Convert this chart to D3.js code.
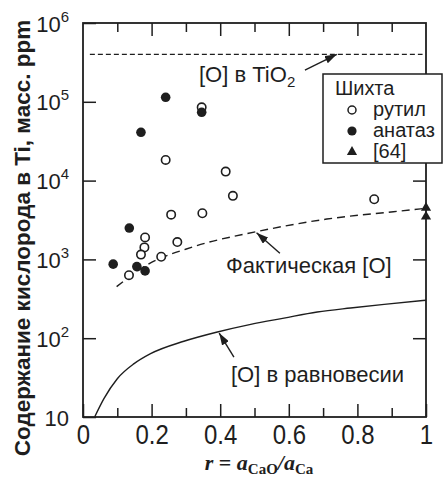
<!DOCTYPE html>
<html><head><meta charset="utf-8">
<script src="https://cdn.jsdelivr.net/npm/d3@7"></script>
<style>
html,body{margin:0;padding:0;background:#fff;}
svg{display:block;}
text{fill:#1e1e1e;}
</style></head><body>
<svg id="chart" width="444" height="485"></svg>
<script>
// Шихта: рутил (открытые кружки)
const rutileR = [0.346, 0.241, 0.416, 0.437, 0.849, 0.257, 0.348, 0.181, 0.275, 0.179, 0.169, 0.228, 0.134];
const rutileO = [85000, 18300, 13000, 6400, 5800, 3700, 3850, 1900, 1660, 1420, 1150, 1080, 630];
// Шихта: анатаз (залитые кружки)
const anataseR = [0.241, 0.346, 0.169, 0.135, 0.088, 0.157, 0.181];
const anataseO = [114000, 73600, 41000, 2500, 870, 810, 715];
// Литературные данные [64]
const refR = [1, 1];
const refO = [4500, 3500];
// Фактическая [O] (штриховая кривая)
const actualR = [0.098, 0.186, 0.322, 0.506, 0.711, 0.905, 1.0];
const actualO = [451, 849, 1449, 2249, 3250, 4030, 4450];
// [O] в равновесии (сплошная кривая)
const eqR = [0.034, 0.061, 0.100, 0.149, 0.197, 0.294, 0.392, 0.489, 0.586, 0.683, 0.780, 0.878, 1.0];
const eqO = [10, 17.1, 30.6, 47.5, 63.6, 91.4, 120, 150, 180, 215, 242, 269, 303];
// [O] в TiO2
const tio2O = 400000;

const xMajorTicks = [0, 0.2, 0.4, 0.6, 0.8, 1];
const xMajorLabels = ["0", "0.2", "0.4", "0.6", "0.8", "1"];
const xMinorTicks = [0.1, 0.3, 0.5, 0.7, 0.9];
const yTicks = [10, 1e2, 1e3, 1e4, 1e5, 1e6];
const yTickExps = ["", "2", "3", "4", "5", "6"];

const svg = d3.select("#chart");
const ink = "#1e1e1e";
const sans = "'Liberation Sans', Arial, sans-serif";
const serif = "'Liberation Serif', 'Times New Roman', serif";
const plot = {left: 83, right: 426, top: 23, bottom: 417};

const x = d3.scaleLinear().domain([0, 1]).range([plot.left, plot.right]);
const y = d3.scaleLog().domain([10, 1e6]).range([plot.bottom, plot.top]);

// arrow head
svg.append("defs").append("marker")
  .attr("id", "arrow").attr("markerUnits", "userSpaceOnUse")
  .attr("viewBox", "0 0 12 8").attr("refX", 12).attr("refY", 4)
  .attr("markerWidth", 12).attr("markerHeight", 8).attr("orient", "auto")
  .append("path").attr("d", "M0,0 L12,4 L0,8 Z").attr("fill", ink);

function styleAxis(g) {
  g.select(".domain").remove();
  g.selectAll(".tick line").attr("stroke", ink).attr("stroke-width", 1.5);
}

// x axes (bottom with labels, top without)
const gxMinor = svg.append("g").attr("transform", `translate(0,${plot.bottom})`)
  .call(d3.axisBottom(x).tickValues(xMinorTicks).tickSize(-9).tickFormat(""));
styleAxis(gxMinor);
const gx = svg.append("g").attr("transform", `translate(0,${plot.bottom})`)
  .call(d3.axisBottom(x).tickValues(xMajorTicks).tickSize(-13).tickPadding(7)
    .tickFormat((d, i) => xMajorLabels[i]));
styleAxis(gx);
gx.selectAll(".tick text").attr("font-family", sans).attr("font-size", 24).attr("fill", ink)
  .attr("transform", "scale(1,1.12)");

const gxTopMinor = svg.append("g").attr("transform", `translate(0,${plot.top})`)
  .call(d3.axisTop(x).tickValues(xMinorTicks).tickSize(-9).tickFormat(""));
styleAxis(gxTopMinor);
const gxTop = svg.append("g").attr("transform", `translate(0,${plot.top})`)
  .call(d3.axisTop(x).tickValues(xMajorTicks.slice(1, -1)).tickSize(-13).tickFormat(""));
styleAxis(gxTop);

// y axes
const gy = svg.append("g").attr("transform", `translate(${plot.left},0)`)
  .call(d3.axisLeft(y).tickValues(yTicks).tickSize(-13).tickFormat(""));
styleAxis(gy);
gy.selectAll(".tick").each(function(d, i) {
  const t = d3.select(this).append("text")
    .attr("x", -14).attr("y", 8).attr("text-anchor", "end")
    .attr("font-family", sans).attr("font-size", 22).attr("fill", ink);
  t.append("tspan").text("10");
  if (yTickExps[i]) t.append("tspan").attr("font-size", 15).attr("dy", -10).text(yTickExps[i]);
});
const gyRight = svg.append("g").attr("transform", `translate(${plot.right},0)`)
  .call(d3.axisRight(y).tickValues(yTicks.slice(1, -1)).tickSize(-13).tickFormat(""));
styleAxis(gyRight);

// frame
svg.append("rect").attr("x", plot.left).attr("y", plot.top)
  .attr("width", plot.right - plot.left).attr("height", plot.bottom - plot.top)
  .attr("fill", "none").attr("stroke", ink).attr("stroke-width", 1.8);

// [O] в TiO2
svg.append("line").attr("x1", x(0.02)).attr("x2", x(0.99))
  .attr("y1", y(tio2O)).attr("y2", y(tio2O))
  .attr("stroke", ink).attr("stroke-width", 1.2).attr("stroke-dasharray", "5,3");

// curves
const actual = actualR.map((r, i) => [r, actualO[i]]);
const eq = eqR.map((r, i) => [r, eqO[i]]);
const line = d3.line().x(d => x(d[0])).y(d => y(d[1])).curve(d3.curveMonotoneX);
svg.append("path").attr("d", line(actual)).attr("fill", "none")
  .attr("stroke", ink).attr("stroke-width", 1.4).attr("stroke-dasharray", "8,5");
svg.append("path").attr("d", line(eq)).attr("fill", "none")
  .attr("stroke", ink).attr("stroke-width", 1.4);

// points
svg.append("g").selectAll("circle").data(rutileR).join("circle")
  .attr("cx", d => x(d)).attr("cy", (d, i) => y(rutileO[i])).attr("r", 4.2)
  .attr("fill", "#fff").attr("stroke", ink).attr("stroke-width", 1.6);
svg.append("g").selectAll("circle").data(anataseR).join("circle")
  .attr("cx", d => x(d)).attr("cy", (d, i) => y(anataseO[i])).attr("r", 4.8)
  .attr("fill", ink);
svg.append("g").selectAll("path").data(refR).join("path")
  .attr("transform", (d, i) => `translate(${x(d)},${y(refO[i])})`)
  .attr("d", d3.symbol(d3.symbolTriangle, 45)).attr("fill", ink);

// annotations
function arrow(r0, o0, r1, o1) {
  svg.append("line").attr("x1", x(r0)).attr("y1", y(o0)).attr("x2", x(r1)).attr("y2", y(o1))
    .attr("stroke", ink).attr("stroke-width", 1.4).attr("marker-end", "url(#arrow)");
}
arrow(0.647, 253000, 0.74, 400000);
arrow(0.574, 1195, 0.506, 2180);
arrow(0.440, 57.7, 0.397, 116);

const tio2Label = svg.append("text").attr("x", 199).attr("y", 82)
  .attr("font-family", sans).attr("font-size", 22);
tio2Label.append("tspan").text("[O] в TiO");
tio2Label.append("tspan").attr("font-size", 15).attr("dy", 5).text("2");

svg.append("text").attr("x", 226).attr("y", 273)
  .attr("font-family", sans).attr("font-size", 22).text("Фактическая [O]");
svg.append("text").attr("x", 231).attr("y", 382)
  .attr("font-family", sans).attr("font-size", 22).text("[O] в равновесии");

// legend
const lg = svg.append("g");
lg.append("rect").attr("x", 323).attr("y", 74).attr("width", 119).attr("height", 89)
  .attr("fill", "#fff").attr("stroke", ink).attr("stroke-width", 1.5);
lg.append("text").attr("x", 335).attr("y", 95).attr("font-family", sans)
  .attr("font-size", 20).text("Шихта");
const legendItems = ["рутил", "анатаз", "[64]"];
legendItems.forEach((name, i) => {
  const cy = 110 + i * 21;
  if (i === 0) lg.append("circle").attr("cx", 352).attr("cy", cy).attr("r", 4)
    .attr("fill", "#fff").attr("stroke", ink).attr("stroke-width", 1.5);
  if (i === 1) lg.append("circle").attr("cx", 352).attr("cy", cy).attr("r", 4.6).attr("fill", ink);
  if (i === 2) lg.append("path").attr("transform", `translate(352,${cy})`)
    .attr("d", d3.symbol(d3.symbolTriangle, 45)).attr("fill", ink);
  lg.append("text").attr("x", 373).attr("y", cy + 6).attr("font-family", sans)
    .attr("font-size", 20).text(name);
});

// axis titles
svg.append("text").attr("transform", "translate(30,238) rotate(-90)")
  .attr("text-anchor", "middle").attr("font-family", sans).attr("font-weight", "bold")
  .attr("font-size", 22.5).text("Содержание кислорода в Ti, масс. ppm");

const xt = svg.append("text").attr("x", 259).attr("y", 470).attr("text-anchor", "middle")
  .attr("font-family", serif).attr("font-weight", "bold").attr("font-size", 22);
xt.append("tspan").attr("font-style", "italic").text("r");
xt.append("tspan").text(" = ");
xt.append("tspan").attr("font-style", "italic").text("a");
xt.append("tspan").attr("font-size", 15).attr("dy", 4).text("CaO");
xt.append("tspan").attr("font-style", "italic").attr("dy", -4).text("/");
xt.append("tspan").attr("font-style", "italic").text("a");
xt.append("tspan").attr("font-size", 15).attr("dy", 4).text("Ca");
</script>
</body></html>
